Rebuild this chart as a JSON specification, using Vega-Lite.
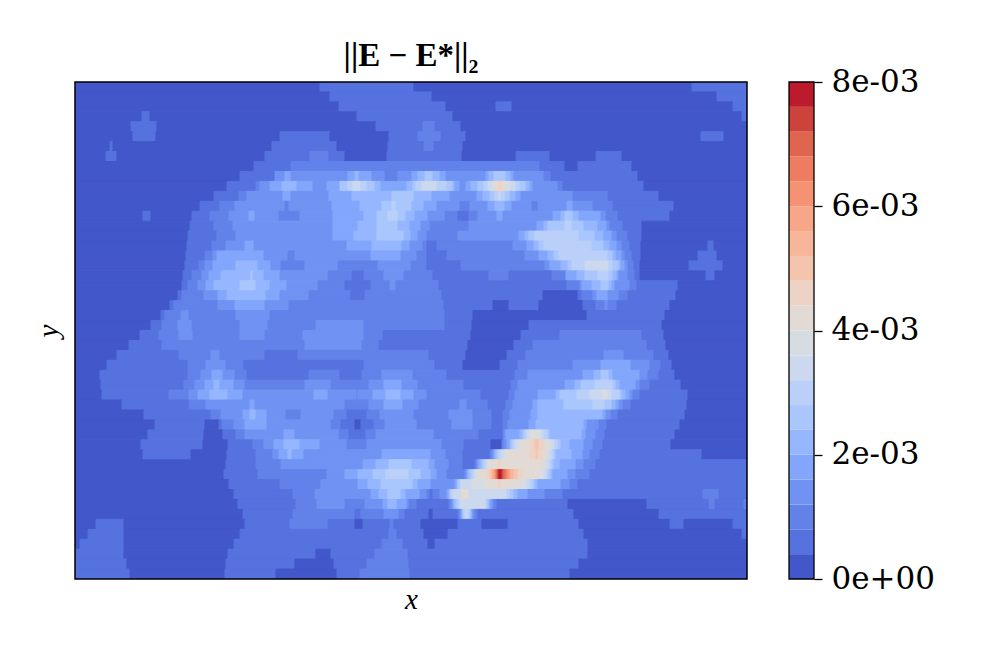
{"$schema":"https://vega.github.io/schema/vega-lite/v6.json","background":"white","padding":{"left":34,"top":40,"right":10,"bottom":10},"spacing":40,"config":{"view":{"stroke":null},"concat":{"spacing":40}},"hconcat":[{"width":672,"height":497,"title":{"text":"||E − E*||₂","font":"Liberation Serif","fontSize":33,"fontWeight":"bold","offset":8,"color":"black"},"layer":[{"data":{"values":[
{"y":0,"x0":75,"x1":320,"v":0.2},{"y":0,"x0":320,"x1":414,"v":0.6},{"y":0,"x0":414,"x1":692,"v":0.2},{"y":0,"x0":692,"x1":747,"v":0.6},
{"y":1,"x0":75,"x1":330,"v":0.2},{"y":1,"x0":330,"x1":432,"v":0.6},{"y":1,"x0":432,"x1":717,"v":0.2},{"y":1,"x0":717,"x1":747,"v":0.6},
{"y":2,"x0":75,"x1":339,"v":0.2},{"y":2,"x0":339,"x1":446,"v":0.6},{"y":2,"x0":446,"x1":496,"v":0.2},{"y":2,"x0":496,"x1":512,"v":0.6},{"y":2,"x0":512,"x1":733,"v":0.2},{"y":2,"x0":733,"x1":747,"v":0.6},
{"y":3,"x0":75,"x1":142,"v":0.2},{"y":3,"x0":142,"x1":150,"v":0.6},{"y":3,"x0":150,"x1":357,"v":0.2},{"y":3,"x0":357,"x1":453,"v":0.6},{"y":3,"x0":453,"x1":742,"v":0.2},{"y":3,"x0":742,"x1":747,"v":0.6},
{"y":4,"x0":75,"x1":131,"v":0.2},{"y":4,"x0":131,"x1":157,"v":0.6},{"y":4,"x0":157,"x1":376,"v":0.2},{"y":4,"x0":376,"x1":423,"v":0.6},{"y":4,"x0":423,"x1":435,"v":1},{"y":4,"x0":435,"x1":461,"v":0.6},{"y":4,"x0":461,"x1":747,"v":0.2},
{"y":5,"x0":75,"x1":133,"v":0.2},{"y":5,"x0":133,"x1":156,"v":0.6},{"y":5,"x0":156,"x1":280,"v":0.2},{"y":5,"x0":280,"x1":330,"v":0.6},{"y":5,"x0":330,"x1":389,"v":0.2},{"y":5,"x0":389,"x1":418,"v":0.6},{"y":5,"x0":418,"x1":441,"v":1},{"y":5,"x0":441,"x1":466,"v":0.6},{"y":5,"x0":466,"x1":701,"v":0.2},{"y":5,"x0":701,"x1":724,"v":0.6},{"y":5,"x0":724,"x1":747,"v":0.2},
{"y":6,"x0":75,"x1":110,"v":0.2},{"y":6,"x0":110,"x1":113,"v":0.6},{"y":6,"x0":113,"x1":272,"v":0.2},{"y":6,"x0":272,"x1":337,"v":0.6},{"y":6,"x0":337,"x1":388,"v":0.2},{"y":6,"x0":388,"x1":424,"v":0.6},{"y":6,"x0":424,"x1":434,"v":1},{"y":6,"x0":434,"x1":463,"v":0.6},{"y":6,"x0":463,"x1":747,"v":0.2},
{"y":7,"x0":75,"x1":106,"v":0.2},{"y":7,"x0":106,"x1":117,"v":0.6},{"y":7,"x0":117,"x1":265,"v":0.2},{"y":7,"x0":265,"x1":310,"v":0.6},{"y":7,"x0":310,"x1":329,"v":1},{"y":7,"x0":329,"x1":345,"v":0.6},{"y":7,"x0":345,"x1":387,"v":0.2},{"y":7,"x0":387,"x1":462,"v":0.6},{"y":7,"x0":462,"x1":516,"v":0.2},{"y":7,"x0":516,"x1":550,"v":0.6},{"y":7,"x0":550,"x1":596,"v":0.2},{"y":7,"x0":596,"x1":622,"v":0.6},{"y":7,"x0":622,"x1":747,"v":0.2},
{"y":8,"x0":75,"x1":254,"v":0.2},{"y":8,"x0":254,"x1":291,"v":0.6},{"y":8,"x0":291,"x1":540,"v":1},{"y":8,"x0":540,"x1":565,"v":0.6},{"y":8,"x0":565,"x1":578,"v":0.2},{"y":8,"x0":578,"x1":632,"v":0.6},{"y":8,"x0":632,"x1":747,"v":0.2},
{"y":9,"x0":75,"x1":240,"v":0.2},{"y":9,"x0":240,"x1":275,"v":0.6},{"y":9,"x0":275,"x1":285,"v":1.4},{"y":9,"x0":285,"x1":291,"v":1.8},{"y":9,"x0":291,"x1":348,"v":1.4},{"y":9,"x0":348,"x1":355,"v":1.8},{"y":9,"x0":355,"x1":359,"v":2.2},{"y":9,"x0":359,"x1":372,"v":1.8},{"y":9,"x0":372,"x1":385,"v":1.4},{"y":9,"x0":385,"x1":398,"v":1},{"y":9,"x0":398,"x1":412,"v":1.4},{"y":9,"x0":412,"x1":418,"v":1.8},{"y":9,"x0":418,"x1":425,"v":2.2},{"y":9,"x0":425,"x1":433,"v":2.6},{"y":9,"x0":433,"x1":440,"v":2.2},{"y":9,"x0":440,"x1":446,"v":1.8},{"y":9,"x0":446,"x1":486,"v":1.4},{"y":9,"x0":486,"x1":489,"v":1.8},{"y":9,"x0":489,"x1":494,"v":2.2},{"y":9,"x0":494,"x1":506,"v":2.6},{"y":9,"x0":506,"x1":511,"v":2.2},{"y":9,"x0":511,"x1":514,"v":1.8},{"y":9,"x0":514,"x1":544,"v":1.4},{"y":9,"x0":544,"x1":551,"v":1},{"y":9,"x0":551,"x1":638,"v":0.6},{"y":9,"x0":638,"x1":747,"v":0.2},
{"y":10,"x0":75,"x1":227,"v":0.2},{"y":10,"x0":227,"x1":256,"v":0.6},{"y":10,"x0":256,"x1":260,"v":1},{"y":10,"x0":260,"x1":270,"v":1.4},{"y":10,"x0":270,"x1":282,"v":1.8},{"y":10,"x0":282,"x1":297,"v":2.2},{"y":10,"x0":297,"x1":313,"v":1.8},{"y":10,"x0":313,"x1":327,"v":1.4},{"y":10,"x0":327,"x1":340,"v":1.8},{"y":10,"x0":340,"x1":348,"v":2.6},{"y":10,"x0":348,"x1":353,"v":3},{"y":10,"x0":353,"x1":361,"v":3.4},{"y":10,"x0":361,"x1":367,"v":3},{"y":10,"x0":367,"x1":375,"v":2.6},{"y":10,"x0":375,"x1":381,"v":2.2},{"y":10,"x0":381,"x1":407,"v":1.8},{"y":10,"x0":407,"x1":413,"v":2.2},{"y":10,"x0":413,"x1":416,"v":2.6},{"y":10,"x0":416,"x1":422,"v":3},{"y":10,"x0":422,"x1":437,"v":3.4},{"y":10,"x0":437,"x1":447,"v":3},{"y":10,"x0":447,"x1":453,"v":2.6},{"y":10,"x0":453,"x1":455,"v":2.2},{"y":10,"x0":455,"x1":460,"v":1.8},{"y":10,"x0":460,"x1":466,"v":1.4},{"y":10,"x0":466,"x1":471,"v":1.8},{"y":10,"x0":471,"x1":478,"v":2.2},{"y":10,"x0":478,"x1":484,"v":2.6},{"y":10,"x0":484,"x1":488,"v":3},{"y":10,"x0":488,"x1":492,"v":3.4},{"y":10,"x0":492,"x1":495,"v":3.8},{"y":10,"x0":495,"x1":498,"v":4.2},{"y":10,"x0":498,"x1":503,"v":4.6},{"y":10,"x0":503,"x1":506,"v":4.2},{"y":10,"x0":506,"x1":510,"v":3.8},{"y":10,"x0":510,"x1":516,"v":3.4},{"y":10,"x0":516,"x1":520,"v":3},{"y":10,"x0":520,"x1":526,"v":2.6},{"y":10,"x0":526,"x1":530,"v":2.2},{"y":10,"x0":530,"x1":533,"v":1.8},{"y":10,"x0":533,"x1":558,"v":1.4},{"y":10,"x0":558,"x1":563,"v":1},{"y":10,"x0":563,"x1":644,"v":0.6},{"y":10,"x0":644,"x1":747,"v":0.2},
{"y":11,"x0":75,"x1":214,"v":0.2},{"y":11,"x0":214,"x1":239,"v":0.6},{"y":11,"x0":239,"x1":247,"v":1},{"y":11,"x0":247,"x1":283,"v":1.4},{"y":11,"x0":283,"x1":291,"v":1.8},{"y":11,"x0":291,"x1":329,"v":1.4},{"y":11,"x0":329,"x1":352,"v":1.8},{"y":11,"x0":352,"x1":392,"v":2.2},{"y":11,"x0":392,"x1":414,"v":2.6},{"y":11,"x0":414,"x1":432,"v":2.2},{"y":11,"x0":432,"x1":450,"v":1.8},{"y":11,"x0":450,"x1":477,"v":1.4},{"y":11,"x0":477,"x1":483,"v":1.8},{"y":11,"x0":483,"x1":490,"v":2.2},{"y":11,"x0":490,"x1":495,"v":2.6},{"y":11,"x0":495,"x1":499,"v":3},{"y":11,"x0":499,"x1":501,"v":3.4},{"y":11,"x0":501,"x1":505,"v":3},{"y":11,"x0":505,"x1":510,"v":2.6},{"y":11,"x0":510,"x1":516,"v":2.2},{"y":11,"x0":516,"x1":521,"v":1.8},{"y":11,"x0":521,"x1":573,"v":1.4},{"y":11,"x0":573,"x1":608,"v":1},{"y":11,"x0":608,"x1":659,"v":0.6},{"y":11,"x0":659,"x1":747,"v":0.2},
{"y":12,"x0":75,"x1":200,"v":0.2},{"y":12,"x0":200,"x1":220,"v":0.6},{"y":12,"x0":220,"x1":235,"v":1},{"y":12,"x0":235,"x1":285,"v":1.4},{"y":12,"x0":285,"x1":289,"v":1},{"y":12,"x0":289,"x1":332,"v":1.4},{"y":12,"x0":332,"x1":360,"v":1.8},{"y":12,"x0":360,"x1":382,"v":2.2},{"y":12,"x0":382,"x1":392,"v":2.6},{"y":12,"x0":392,"x1":396,"v":3},{"y":12,"x0":396,"x1":412,"v":2.6},{"y":12,"x0":412,"x1":424,"v":2.2},{"y":12,"x0":424,"x1":437,"v":1.8},{"y":12,"x0":437,"x1":460,"v":1.4},{"y":12,"x0":460,"x1":470,"v":1},{"y":12,"x0":470,"x1":488,"v":1.4},{"y":12,"x0":488,"x1":495,"v":1.8},{"y":12,"x0":495,"x1":505,"v":2.2},{"y":12,"x0":505,"x1":512,"v":1.8},{"y":12,"x0":512,"x1":532,"v":1.4},{"y":12,"x0":532,"x1":538,"v":1},{"y":12,"x0":538,"x1":567,"v":1.4},{"y":12,"x0":567,"x1":573,"v":1.8},{"y":12,"x0":573,"x1":593,"v":1.4},{"y":12,"x0":593,"x1":613,"v":1},{"y":12,"x0":613,"x1":674,"v":0.6},{"y":12,"x0":674,"x1":747,"v":0.2},
{"y":13,"x0":75,"x1":143,"v":0.2},{"y":13,"x0":143,"x1":151,"v":0.6},{"y":13,"x0":151,"x1":192,"v":0.2},{"y":13,"x0":192,"x1":210,"v":0.6},{"y":13,"x0":210,"x1":229,"v":1},{"y":13,"x0":229,"x1":249,"v":1.4},{"y":13,"x0":249,"x1":255,"v":1.8},{"y":13,"x0":255,"x1":279,"v":1.4},{"y":13,"x0":279,"x1":300,"v":1},{"y":13,"x0":300,"x1":333,"v":1.4},{"y":13,"x0":333,"x1":364,"v":1.8},{"y":13,"x0":364,"x1":377,"v":2.2},{"y":13,"x0":377,"x1":388,"v":2.6},{"y":13,"x0":388,"x1":398,"v":3},{"y":13,"x0":398,"x1":406,"v":2.6},{"y":13,"x0":406,"x1":415,"v":2.2},{"y":13,"x0":415,"x1":428,"v":1.8},{"y":13,"x0":428,"x1":445,"v":1.4},{"y":13,"x0":445,"x1":458,"v":1},{"y":13,"x0":458,"x1":469,"v":0.6},{"y":13,"x0":469,"x1":478,"v":1},{"y":13,"x0":478,"x1":497,"v":1.4},{"y":13,"x0":497,"x1":503,"v":1.8},{"y":13,"x0":503,"x1":553,"v":1.4},{"y":13,"x0":553,"x1":561,"v":1.8},{"y":13,"x0":561,"x1":565,"v":2.2},{"y":13,"x0":565,"x1":573,"v":2.6},{"y":13,"x0":573,"x1":579,"v":2.2},{"y":13,"x0":579,"x1":601,"v":1.8},{"y":13,"x0":601,"x1":606,"v":1.4},{"y":13,"x0":606,"x1":618,"v":1},{"y":13,"x0":618,"x1":670,"v":0.6},{"y":13,"x0":670,"x1":747,"v":0.2},
{"y":14,"x0":75,"x1":190,"v":0.2},{"y":14,"x0":190,"x1":214,"v":0.6},{"y":14,"x0":214,"x1":233,"v":1},{"y":14,"x0":233,"x1":333,"v":1.4},{"y":14,"x0":333,"x1":358,"v":1.8},{"y":14,"x0":358,"x1":377,"v":2.2},{"y":14,"x0":377,"x1":398,"v":2.6},{"y":14,"x0":398,"x1":410,"v":2.2},{"y":14,"x0":410,"x1":421,"v":1.8},{"y":14,"x0":421,"x1":430,"v":1.4},{"y":14,"x0":430,"x1":469,"v":1},{"y":14,"x0":469,"x1":537,"v":1.4},{"y":14,"x0":537,"x1":544,"v":1.8},{"y":14,"x0":544,"x1":548,"v":2.2},{"y":14,"x0":548,"x1":565,"v":2.6},{"y":14,"x0":565,"x1":572,"v":3},{"y":14,"x0":572,"x1":584,"v":2.6},{"y":14,"x0":584,"x1":598,"v":2.2},{"y":14,"x0":598,"x1":607,"v":1.8},{"y":14,"x0":607,"x1":610,"v":1.4},{"y":14,"x0":610,"x1":623,"v":1},{"y":14,"x0":623,"x1":642,"v":0.6},{"y":14,"x0":642,"x1":747,"v":0.2},
{"y":15,"x0":75,"x1":188,"v":0.2},{"y":15,"x0":188,"x1":217,"v":0.6},{"y":15,"x0":217,"x1":236,"v":1},{"y":15,"x0":236,"x1":333,"v":1.4},{"y":15,"x0":333,"x1":354,"v":1.8},{"y":15,"x0":354,"x1":377,"v":2.2},{"y":15,"x0":377,"x1":404,"v":2.6},{"y":15,"x0":404,"x1":411,"v":2.2},{"y":15,"x0":411,"x1":418,"v":1.8},{"y":15,"x0":418,"x1":427,"v":1.4},{"y":15,"x0":427,"x1":458,"v":1},{"y":15,"x0":458,"x1":519,"v":1.4},{"y":15,"x0":519,"x1":525,"v":1.8},{"y":15,"x0":525,"x1":529,"v":2.2},{"y":15,"x0":529,"x1":535,"v":2.6},{"y":15,"x0":535,"x1":579,"v":3},{"y":15,"x0":579,"x1":595,"v":2.6},{"y":15,"x0":595,"x1":604,"v":2.2},{"y":15,"x0":604,"x1":612,"v":1.8},{"y":15,"x0":612,"x1":617,"v":1.4},{"y":15,"x0":617,"x1":628,"v":1},{"y":15,"x0":628,"x1":642,"v":0.6},{"y":15,"x0":642,"x1":747,"v":0.2},
{"y":16,"x0":75,"x1":187,"v":0.2},{"y":16,"x0":187,"x1":212,"v":0.6},{"y":16,"x0":212,"x1":226,"v":1},{"y":16,"x0":226,"x1":245,"v":1.4},{"y":16,"x0":245,"x1":254,"v":1.8},{"y":16,"x0":254,"x1":347,"v":1.4},{"y":16,"x0":347,"x1":372,"v":1.8},{"y":16,"x0":372,"x1":402,"v":2.2},{"y":16,"x0":402,"x1":410,"v":1.8},{"y":16,"x0":410,"x1":423,"v":1.4},{"y":16,"x0":423,"x1":427,"v":1},{"y":16,"x0":427,"x1":437,"v":0.6},{"y":16,"x0":437,"x1":513,"v":1},{"y":16,"x0":513,"x1":527,"v":1.4},{"y":16,"x0":527,"x1":534,"v":1.8},{"y":16,"x0":534,"x1":539,"v":2.2},{"y":16,"x0":539,"x1":544,"v":2.6},{"y":16,"x0":544,"x1":592,"v":3},{"y":16,"x0":592,"x1":604,"v":2.6},{"y":16,"x0":604,"x1":610,"v":2.2},{"y":16,"x0":610,"x1":617,"v":1.8},{"y":16,"x0":617,"x1":622,"v":1.4},{"y":16,"x0":622,"x1":630,"v":1},{"y":16,"x0":630,"x1":641,"v":0.6},{"y":16,"x0":641,"x1":708,"v":0.2},{"y":16,"x0":708,"x1":714,"v":0.6},{"y":16,"x0":714,"x1":747,"v":0.2},
{"y":17,"x0":75,"x1":186,"v":0.2},{"y":17,"x0":186,"x1":205,"v":0.6},{"y":17,"x0":205,"x1":213,"v":1},{"y":17,"x0":213,"x1":217,"v":1.4},{"y":17,"x0":217,"x1":264,"v":1.8},{"y":17,"x0":264,"x1":288,"v":1.4},{"y":17,"x0":288,"x1":295,"v":1},{"y":17,"x0":295,"x1":371,"v":1.4},{"y":17,"x0":371,"x1":401,"v":1.8},{"y":17,"x0":401,"x1":417,"v":1.4},{"y":17,"x0":417,"x1":427,"v":1},{"y":17,"x0":427,"x1":447,"v":0.6},{"y":17,"x0":447,"x1":525,"v":1},{"y":17,"x0":525,"x1":539,"v":1.4},{"y":17,"x0":539,"x1":548,"v":1.8},{"y":17,"x0":548,"x1":554,"v":2.2},{"y":17,"x0":554,"x1":559,"v":2.6},{"y":17,"x0":559,"x1":608,"v":3},{"y":17,"x0":608,"x1":613,"v":2.6},{"y":17,"x0":613,"x1":616,"v":2.2},{"y":17,"x0":616,"x1":622,"v":1.8},{"y":17,"x0":622,"x1":625,"v":1.4},{"y":17,"x0":625,"x1":632,"v":1},{"y":17,"x0":632,"x1":641,"v":0.6},{"y":17,"x0":641,"x1":698,"v":0.2},{"y":17,"x0":698,"x1":717,"v":0.6},{"y":17,"x0":717,"x1":747,"v":0.2},
{"y":18,"x0":75,"x1":185,"v":0.2},{"y":18,"x0":185,"x1":199,"v":0.6},{"y":18,"x0":199,"x1":205,"v":1},{"y":18,"x0":205,"x1":213,"v":1.4},{"y":18,"x0":213,"x1":236,"v":1.8},{"y":18,"x0":236,"x1":258,"v":2.2},{"y":18,"x0":258,"x1":271,"v":1.8},{"y":18,"x0":271,"x1":281,"v":1.4},{"y":18,"x0":281,"x1":305,"v":1},{"y":18,"x0":305,"x1":338,"v":1.4},{"y":18,"x0":338,"x1":378,"v":1},{"y":18,"x0":378,"x1":411,"v":1.4},{"y":18,"x0":411,"x1":427,"v":1},{"y":18,"x0":427,"x1":461,"v":0.6},{"y":18,"x0":461,"x1":545,"v":1},{"y":18,"x0":545,"x1":550,"v":1.4},{"y":18,"x0":550,"x1":561,"v":1.8},{"y":18,"x0":561,"x1":568,"v":2.2},{"y":18,"x0":568,"x1":572,"v":2.6},{"y":18,"x0":572,"x1":585,"v":3},{"y":18,"x0":585,"x1":609,"v":3.4},{"y":18,"x0":609,"x1":613,"v":3},{"y":18,"x0":613,"x1":619,"v":2.6},{"y":18,"x0":619,"x1":621,"v":2.2},{"y":18,"x0":621,"x1":625,"v":1.8},{"y":18,"x0":625,"x1":628,"v":1.4},{"y":18,"x0":628,"x1":634,"v":1},{"y":18,"x0":634,"x1":640,"v":0.6},{"y":18,"x0":640,"x1":689,"v":0.2},{"y":18,"x0":689,"x1":723,"v":0.6},{"y":18,"x0":723,"x1":747,"v":0.2},
{"y":19,"x0":75,"x1":183,"v":0.2},{"y":19,"x0":183,"x1":192,"v":0.6},{"y":19,"x0":192,"x1":202,"v":1},{"y":19,"x0":202,"x1":209,"v":1.4},{"y":19,"x0":209,"x1":221,"v":1.8},{"y":19,"x0":221,"x1":251,"v":2.2},{"y":19,"x0":251,"x1":253,"v":2.6},{"y":19,"x0":253,"x1":264,"v":2.2},{"y":19,"x0":264,"x1":280,"v":1.8},{"y":19,"x0":280,"x1":328,"v":1.4},{"y":19,"x0":328,"x1":352,"v":1},{"y":19,"x0":352,"x1":364,"v":0.6},{"y":19,"x0":364,"x1":384,"v":1},{"y":19,"x0":384,"x1":404,"v":1.4},{"y":19,"x0":404,"x1":433,"v":1},{"y":19,"x0":433,"x1":489,"v":0.6},{"y":19,"x0":489,"x1":509,"v":1},{"y":19,"x0":509,"x1":552,"v":0.6},{"y":19,"x0":552,"x1":566,"v":1},{"y":19,"x0":566,"x1":577,"v":1.8},{"y":19,"x0":577,"x1":585,"v":2.2},{"y":19,"x0":585,"x1":598,"v":2.6},{"y":19,"x0":598,"x1":609,"v":3},{"y":19,"x0":609,"x1":613,"v":2.6},{"y":19,"x0":613,"x1":617,"v":2.2},{"y":19,"x0":617,"x1":619,"v":1.8},{"y":19,"x0":619,"x1":628,"v":1.4},{"y":19,"x0":628,"x1":635,"v":1},{"y":19,"x0":635,"x1":640,"v":0.6},{"y":19,"x0":640,"x1":706,"v":0.2},{"y":19,"x0":706,"x1":715,"v":0.6},{"y":19,"x0":715,"x1":747,"v":0.2},
{"y":20,"x0":75,"x1":182,"v":0.2},{"y":20,"x0":182,"x1":188,"v":0.6},{"y":20,"x0":188,"x1":198,"v":1},{"y":20,"x0":198,"x1":206,"v":1.4},{"y":20,"x0":206,"x1":214,"v":1.8},{"y":20,"x0":214,"x1":240,"v":2.2},{"y":20,"x0":240,"x1":256,"v":2.6},{"y":20,"x0":256,"x1":270,"v":2.2},{"y":20,"x0":270,"x1":287,"v":1.8},{"y":20,"x0":287,"x1":318,"v":1.4},{"y":20,"x0":318,"x1":345,"v":1},{"y":20,"x0":345,"x1":371,"v":0.6},{"y":20,"x0":371,"x1":390,"v":1},{"y":20,"x0":390,"x1":396,"v":1.4},{"y":20,"x0":396,"x1":439,"v":1},{"y":20,"x0":439,"x1":567,"v":0.6},{"y":20,"x0":567,"x1":580,"v":1},{"y":20,"x0":580,"x1":582,"v":1.4},{"y":20,"x0":582,"x1":592,"v":1.8},{"y":20,"x0":592,"x1":601,"v":2.2},{"y":20,"x0":601,"x1":609,"v":2.6},{"y":20,"x0":609,"x1":612,"v":2.2},{"y":20,"x0":612,"x1":615,"v":1.8},{"y":20,"x0":615,"x1":630,"v":1.4},{"y":20,"x0":630,"x1":637,"v":1},{"y":20,"x0":637,"x1":678,"v":0.6},{"y":20,"x0":678,"x1":747,"v":0.2},
{"y":21,"x0":75,"x1":178,"v":0.2},{"y":21,"x0":178,"x1":182,"v":0.6},{"y":21,"x0":182,"x1":204,"v":1},{"y":21,"x0":204,"x1":218,"v":1.4},{"y":21,"x0":218,"x1":227,"v":1.8},{"y":21,"x0":227,"x1":266,"v":2.2},{"y":21,"x0":266,"x1":280,"v":1.8},{"y":21,"x0":280,"x1":309,"v":1.4},{"y":21,"x0":309,"x1":351,"v":1},{"y":21,"x0":351,"x1":365,"v":0.6},{"y":21,"x0":365,"x1":442,"v":1},{"y":21,"x0":442,"x1":543,"v":0.6},{"y":21,"x0":543,"x1":578,"v":0.2},{"y":21,"x0":578,"x1":582,"v":0.6},{"y":21,"x0":582,"x1":593,"v":1},{"y":21,"x0":593,"x1":597,"v":1.4},{"y":21,"x0":597,"x1":608,"v":1.8},{"y":21,"x0":608,"x1":619,"v":1.4},{"y":21,"x0":619,"x1":628,"v":1},{"y":21,"x0":628,"x1":676,"v":0.6},{"y":21,"x0":676,"x1":747,"v":0.2},
{"y":22,"x0":75,"x1":170,"v":0.2},{"y":22,"x0":170,"x1":174,"v":0.6},{"y":22,"x0":174,"x1":218,"v":1},{"y":22,"x0":218,"x1":235,"v":1.4},{"y":22,"x0":235,"x1":265,"v":1.8},{"y":22,"x0":265,"x1":289,"v":1.4},{"y":22,"x0":289,"x1":444,"v":1},{"y":22,"x0":444,"x1":493,"v":0.6},{"y":22,"x0":493,"x1":509,"v":0.2},{"y":22,"x0":509,"x1":539,"v":0.6},{"y":22,"x0":539,"x1":583,"v":0.2},{"y":22,"x0":583,"x1":596,"v":0.6},{"y":22,"x0":596,"x1":605,"v":1},{"y":22,"x0":605,"x1":608,"v":1.4},{"y":22,"x0":608,"x1":617,"v":1},{"y":22,"x0":617,"x1":670,"v":0.6},{"y":22,"x0":670,"x1":747,"v":0.2},
{"y":23,"x0":75,"x1":161,"v":0.2},{"y":23,"x0":161,"x1":165,"v":0.6},{"y":23,"x0":165,"x1":181,"v":1},{"y":23,"x0":181,"x1":189,"v":1.4},{"y":23,"x0":189,"x1":236,"v":1},{"y":23,"x0":236,"x1":270,"v":1.4},{"y":23,"x0":270,"x1":445,"v":1},{"y":23,"x0":445,"x1":473,"v":0.6},{"y":23,"x0":473,"x1":587,"v":0.2},{"y":23,"x0":587,"x1":665,"v":0.6},{"y":23,"x0":665,"x1":747,"v":0.2},
{"y":24,"x0":75,"x1":151,"v":0.2},{"y":24,"x0":151,"x1":162,"v":0.6},{"y":24,"x0":162,"x1":178,"v":1},{"y":24,"x0":178,"x1":192,"v":1.4},{"y":24,"x0":192,"x1":240,"v":1},{"y":24,"x0":240,"x1":268,"v":1.4},{"y":24,"x0":268,"x1":316,"v":1},{"y":24,"x0":316,"x1":364,"v":1.4},{"y":24,"x0":364,"x1":445,"v":1},{"y":24,"x0":445,"x1":472,"v":0.6},{"y":24,"x0":472,"x1":529,"v":0.2},{"y":24,"x0":529,"x1":662,"v":0.6},{"y":24,"x0":662,"x1":747,"v":0.2},
{"y":25,"x0":75,"x1":140,"v":0.2},{"y":25,"x0":140,"x1":159,"v":0.6},{"y":25,"x0":159,"x1":179,"v":1},{"y":25,"x0":179,"x1":193,"v":1.4},{"y":25,"x0":193,"x1":240,"v":1},{"y":25,"x0":240,"x1":265,"v":1.4},{"y":25,"x0":265,"x1":303,"v":1},{"y":25,"x0":303,"x1":364,"v":1.4},{"y":25,"x0":364,"x1":383,"v":1},{"y":25,"x0":383,"x1":471,"v":0.6},{"y":25,"x0":471,"x1":521,"v":0.2},{"y":25,"x0":521,"x1":560,"v":0.6},{"y":25,"x0":560,"x1":642,"v":1},{"y":25,"x0":642,"x1":664,"v":0.6},{"y":25,"x0":664,"x1":747,"v":0.2},
{"y":26,"x0":75,"x1":129,"v":0.2},{"y":26,"x0":129,"x1":162,"v":0.6},{"y":26,"x0":162,"x1":305,"v":1},{"y":26,"x0":305,"x1":362,"v":1.4},{"y":26,"x0":362,"x1":379,"v":1},{"y":26,"x0":379,"x1":468,"v":0.6},{"y":26,"x0":468,"x1":514,"v":0.2},{"y":26,"x0":514,"x1":533,"v":0.6},{"y":26,"x0":533,"x1":647,"v":1},{"y":26,"x0":647,"x1":666,"v":0.6},{"y":26,"x0":666,"x1":747,"v":0.2},
{"y":27,"x0":75,"x1":117,"v":0.2},{"y":27,"x0":117,"x1":179,"v":0.6},{"y":27,"x0":179,"x1":211,"v":1},{"y":27,"x0":211,"x1":220,"v":1.4},{"y":27,"x0":220,"x1":265,"v":1},{"y":27,"x0":265,"x1":298,"v":0.6},{"y":27,"x0":298,"x1":429,"v":1},{"y":27,"x0":429,"x1":466,"v":0.6},{"y":27,"x0":466,"x1":507,"v":0.2},{"y":27,"x0":507,"x1":526,"v":0.6},{"y":27,"x0":526,"x1":604,"v":1},{"y":27,"x0":604,"x1":624,"v":1.4},{"y":27,"x0":624,"x1":654,"v":1},{"y":27,"x0":654,"x1":669,"v":0.6},{"y":27,"x0":669,"x1":747,"v":0.2},
{"y":28,"x0":75,"x1":107,"v":0.2},{"y":28,"x0":107,"x1":188,"v":0.6},{"y":28,"x0":188,"x1":206,"v":1},{"y":28,"x0":206,"x1":226,"v":1.4},{"y":28,"x0":226,"x1":244,"v":1},{"y":28,"x0":244,"x1":364,"v":0.6},{"y":28,"x0":364,"x1":435,"v":1},{"y":28,"x0":435,"x1":463,"v":0.6},{"y":28,"x0":463,"x1":500,"v":0.2},{"y":28,"x0":500,"x1":518,"v":0.6},{"y":28,"x0":518,"x1":573,"v":1},{"y":28,"x0":573,"x1":601,"v":1.4},{"y":28,"x0":601,"x1":631,"v":1.8},{"y":28,"x0":631,"x1":650,"v":1.4},{"y":28,"x0":650,"x1":661,"v":1},{"y":28,"x0":661,"x1":672,"v":0.6},{"y":28,"x0":672,"x1":747,"v":0.2},
{"y":29,"x0":75,"x1":100,"v":0.2},{"y":29,"x0":100,"x1":188,"v":0.6},{"y":29,"x0":188,"x1":201,"v":1},{"y":29,"x0":201,"x1":212,"v":1.4},{"y":29,"x0":212,"x1":223,"v":1.8},{"y":29,"x0":223,"x1":235,"v":1.4},{"y":29,"x0":235,"x1":247,"v":1},{"y":29,"x0":247,"x1":309,"v":0.6},{"y":29,"x0":309,"x1":340,"v":1},{"y":29,"x0":340,"x1":362,"v":0.6},{"y":29,"x0":362,"x1":382,"v":1},{"y":29,"x0":382,"x1":413,"v":1.4},{"y":29,"x0":413,"x1":447,"v":1},{"y":29,"x0":447,"x1":515,"v":0.6},{"y":29,"x0":515,"x1":528,"v":1},{"y":29,"x0":528,"x1":583,"v":1.4},{"y":29,"x0":583,"x1":594,"v":1.8},{"y":29,"x0":594,"x1":601,"v":2.2},{"y":29,"x0":601,"x1":609,"v":2.6},{"y":29,"x0":609,"x1":613,"v":2.2},{"y":29,"x0":613,"x1":640,"v":1.8},{"y":29,"x0":640,"x1":648,"v":1.4},{"y":29,"x0":648,"x1":659,"v":1},{"y":29,"x0":659,"x1":675,"v":0.6},{"y":29,"x0":675,"x1":747,"v":0.2},
{"y":30,"x0":75,"x1":101,"v":0.2},{"y":30,"x0":101,"x1":184,"v":0.6},{"y":30,"x0":184,"x1":195,"v":1},{"y":30,"x0":195,"x1":205,"v":1.4},{"y":30,"x0":205,"x1":214,"v":1.8},{"y":30,"x0":214,"x1":220,"v":2.2},{"y":30,"x0":220,"x1":234,"v":1.8},{"y":30,"x0":234,"x1":245,"v":1.4},{"y":30,"x0":245,"x1":305,"v":1},{"y":30,"x0":305,"x1":331,"v":1.4},{"y":30,"x0":331,"x1":369,"v":1},{"y":30,"x0":369,"x1":384,"v":1.4},{"y":30,"x0":384,"x1":402,"v":1.8},{"y":30,"x0":402,"x1":418,"v":1.4},{"y":30,"x0":418,"x1":464,"v":1},{"y":30,"x0":464,"x1":511,"v":0.6},{"y":30,"x0":511,"x1":518,"v":1},{"y":30,"x0":518,"x1":565,"v":1.4},{"y":30,"x0":565,"x1":575,"v":1.8},{"y":30,"x0":575,"x1":581,"v":2.2},{"y":30,"x0":581,"x1":595,"v":2.6},{"y":30,"x0":595,"x1":613,"v":3},{"y":30,"x0":613,"x1":616,"v":2.6},{"y":30,"x0":616,"x1":620,"v":2.2},{"y":30,"x0":620,"x1":636,"v":1.8},{"y":30,"x0":636,"x1":640,"v":1.4},{"y":30,"x0":640,"x1":650,"v":1},{"y":30,"x0":650,"x1":681,"v":0.6},{"y":30,"x0":681,"x1":747,"v":0.2},
{"y":31,"x0":75,"x1":102,"v":0.2},{"y":31,"x0":102,"x1":169,"v":0.6},{"y":31,"x0":169,"x1":189,"v":1},{"y":31,"x0":189,"x1":198,"v":1.4},{"y":31,"x0":198,"x1":210,"v":1.8},{"y":31,"x0":210,"x1":228,"v":2.2},{"y":31,"x0":228,"x1":243,"v":1.8},{"y":31,"x0":243,"x1":314,"v":1.4},{"y":31,"x0":314,"x1":328,"v":1.8},{"y":31,"x0":328,"x1":357,"v":1.4},{"y":31,"x0":357,"x1":358,"v":1},{"y":31,"x0":358,"x1":373,"v":1.4},{"y":31,"x0":373,"x1":386,"v":1.8},{"y":31,"x0":386,"x1":401,"v":2.2},{"y":31,"x0":401,"x1":414,"v":1.8},{"y":31,"x0":414,"x1":427,"v":1.4},{"y":31,"x0":427,"x1":481,"v":1},{"y":31,"x0":481,"x1":509,"v":0.6},{"y":31,"x0":509,"x1":515,"v":1},{"y":31,"x0":515,"x1":538,"v":1.4},{"y":31,"x0":538,"x1":556,"v":1.8},{"y":31,"x0":556,"x1":560,"v":2.2},{"y":31,"x0":560,"x1":577,"v":2.6},{"y":31,"x0":577,"x1":590,"v":3},{"y":31,"x0":590,"x1":602,"v":3.4},{"y":31,"x0":602,"x1":608,"v":3.8},{"y":31,"x0":608,"x1":612,"v":3.4},{"y":31,"x0":612,"x1":620,"v":3},{"y":31,"x0":620,"x1":622,"v":2.6},{"y":31,"x0":622,"x1":626,"v":2.2},{"y":31,"x0":626,"x1":630,"v":1.8},{"y":31,"x0":630,"x1":633,"v":1.4},{"y":31,"x0":633,"x1":640,"v":1},{"y":31,"x0":640,"x1":688,"v":0.6},{"y":31,"x0":688,"x1":747,"v":0.2},
{"y":32,"x0":75,"x1":122,"v":0.2},{"y":32,"x0":122,"x1":189,"v":0.6},{"y":32,"x0":189,"x1":206,"v":1},{"y":32,"x0":206,"x1":250,"v":1.4},{"y":32,"x0":250,"x1":255,"v":1.8},{"y":32,"x0":255,"x1":345,"v":1.4},{"y":32,"x0":345,"x1":369,"v":1},{"y":32,"x0":369,"x1":384,"v":1.4},{"y":32,"x0":384,"x1":403,"v":1.8},{"y":32,"x0":403,"x1":419,"v":1.4},{"y":32,"x0":419,"x1":460,"v":1},{"y":32,"x0":460,"x1":467,"v":1.4},{"y":32,"x0":467,"x1":488,"v":1},{"y":32,"x0":488,"x1":506,"v":0.6},{"y":32,"x0":506,"x1":513,"v":1},{"y":32,"x0":513,"x1":533,"v":1.4},{"y":32,"x0":533,"x1":538,"v":1.8},{"y":32,"x0":538,"x1":564,"v":2.2},{"y":32,"x0":564,"x1":593,"v":2.6},{"y":32,"x0":593,"x1":605,"v":3},{"y":32,"x0":605,"x1":612,"v":2.6},{"y":32,"x0":612,"x1":616,"v":2.2},{"y":32,"x0":616,"x1":619,"v":1.8},{"y":32,"x0":619,"x1":623,"v":1.4},{"y":32,"x0":623,"x1":631,"v":1},{"y":32,"x0":631,"x1":687,"v":0.6},{"y":32,"x0":687,"x1":747,"v":0.2},
{"y":33,"x0":75,"x1":144,"v":0.2},{"y":33,"x0":144,"x1":211,"v":0.6},{"y":33,"x0":211,"x1":221,"v":1},{"y":33,"x0":221,"x1":243,"v":1.4},{"y":33,"x0":243,"x1":250,"v":1.8},{"y":33,"x0":250,"x1":256,"v":2.2},{"y":33,"x0":256,"x1":267,"v":1.8},{"y":33,"x0":267,"x1":286,"v":1.4},{"y":33,"x0":286,"x1":301,"v":1},{"y":33,"x0":301,"x1":334,"v":1.4},{"y":33,"x0":334,"x1":347,"v":1},{"y":33,"x0":347,"x1":367,"v":0.6},{"y":33,"x0":367,"x1":380,"v":1},{"y":33,"x0":380,"x1":414,"v":1.4},{"y":33,"x0":414,"x1":449,"v":1},{"y":33,"x0":449,"x1":473,"v":1.4},{"y":33,"x0":473,"x1":492,"v":1},{"y":33,"x0":492,"x1":503,"v":0.6},{"y":33,"x0":503,"x1":510,"v":1},{"y":33,"x0":510,"x1":531,"v":1.4},{"y":33,"x0":531,"x1":538,"v":1.8},{"y":33,"x0":538,"x1":603,"v":2.2},{"y":33,"x0":603,"x1":606,"v":1.8},{"y":33,"x0":606,"x1":611,"v":1.4},{"y":33,"x0":611,"x1":618,"v":1},{"y":33,"x0":618,"x1":685,"v":0.6},{"y":33,"x0":685,"x1":747,"v":0.2},
{"y":34,"x0":75,"x1":155,"v":0.2},{"y":34,"x0":155,"x1":205,"v":0.6},{"y":34,"x0":205,"x1":219,"v":0.2},{"y":34,"x0":219,"x1":222,"v":0.6},{"y":34,"x0":222,"x1":234,"v":1},{"y":34,"x0":234,"x1":245,"v":1.4},{"y":34,"x0":245,"x1":267,"v":1.8},{"y":34,"x0":267,"x1":331,"v":1.4},{"y":34,"x0":331,"x1":341,"v":1},{"y":34,"x0":341,"x1":355,"v":0.6},{"y":34,"x0":355,"x1":361,"v":0.2},{"y":34,"x0":361,"x1":374,"v":0.6},{"y":34,"x0":374,"x1":385,"v":1},{"y":34,"x0":385,"x1":417,"v":1.4},{"y":34,"x0":417,"x1":452,"v":1},{"y":34,"x0":452,"x1":473,"v":1.4},{"y":34,"x0":473,"x1":492,"v":1},{"y":34,"x0":492,"x1":503,"v":0.6},{"y":34,"x0":503,"x1":508,"v":1},{"y":34,"x0":508,"x1":529,"v":1.4},{"y":34,"x0":529,"x1":536,"v":1.8},{"y":34,"x0":536,"x1":584,"v":2.2},{"y":34,"x0":584,"x1":587,"v":1.8},{"y":34,"x0":587,"x1":599,"v":1.4},{"y":34,"x0":599,"x1":607,"v":1},{"y":34,"x0":607,"x1":680,"v":0.6},{"y":34,"x0":680,"x1":747,"v":0.2},
{"y":35,"x0":75,"x1":148,"v":0.2},{"y":35,"x0":148,"x1":204,"v":0.6},{"y":35,"x0":204,"x1":223,"v":0.2},{"y":35,"x0":223,"x1":236,"v":0.6},{"y":35,"x0":236,"x1":245,"v":1},{"y":35,"x0":245,"x1":284,"v":1.4},{"y":35,"x0":284,"x1":295,"v":1.8},{"y":35,"x0":295,"x1":339,"v":1.4},{"y":35,"x0":339,"x1":349,"v":1},{"y":35,"x0":349,"x1":366,"v":0.6},{"y":35,"x0":366,"x1":376,"v":1},{"y":35,"x0":376,"x1":434,"v":1.4},{"y":35,"x0":434,"x1":479,"v":1},{"y":35,"x0":479,"x1":503,"v":0.6},{"y":35,"x0":503,"x1":504,"v":1},{"y":35,"x0":504,"x1":506,"v":1.4},{"y":35,"x0":506,"x1":520,"v":1.8},{"y":35,"x0":520,"x1":523,"v":2.2},{"y":35,"x0":523,"x1":525,"v":2.6},{"y":35,"x0":525,"x1":527,"v":3},{"y":35,"x0":527,"x1":530,"v":3.4},{"y":35,"x0":530,"x1":533,"v":3.8},{"y":35,"x0":533,"x1":537,"v":4.2},{"y":35,"x0":537,"x1":541,"v":3.8},{"y":35,"x0":541,"x1":544,"v":3.4},{"y":35,"x0":544,"x1":548,"v":3},{"y":35,"x0":548,"x1":550,"v":2.6},{"y":35,"x0":550,"x1":582,"v":2.2},{"y":35,"x0":582,"x1":586,"v":1.8},{"y":35,"x0":586,"x1":596,"v":1.4},{"y":35,"x0":596,"x1":605,"v":1},{"y":35,"x0":605,"x1":675,"v":0.6},{"y":35,"x0":675,"x1":747,"v":0.2},
{"y":36,"x0":75,"x1":141,"v":0.2},{"y":36,"x0":141,"x1":203,"v":0.6},{"y":36,"x0":203,"x1":228,"v":0.2},{"y":36,"x0":228,"x1":253,"v":0.6},{"y":36,"x0":253,"x1":264,"v":1},{"y":36,"x0":264,"x1":274,"v":1.4},{"y":36,"x0":274,"x1":284,"v":1.8},{"y":36,"x0":284,"x1":300,"v":2.2},{"y":36,"x0":300,"x1":320,"v":1.8},{"y":36,"x0":320,"x1":347,"v":1.4},{"y":36,"x0":347,"x1":367,"v":1},{"y":36,"x0":367,"x1":442,"v":1.4},{"y":36,"x0":442,"x1":464,"v":1},{"y":36,"x0":464,"x1":491,"v":0.6},{"y":36,"x0":491,"x1":502,"v":0.2},{"y":36,"x0":502,"x1":504,"v":1},{"y":36,"x0":504,"x1":507,"v":1.4},{"y":36,"x0":507,"x1":510,"v":1.8},{"y":36,"x0":510,"x1":511,"v":2.2},{"y":36,"x0":511,"x1":513,"v":2.6},{"y":36,"x0":513,"x1":515,"v":3},{"y":36,"x0":515,"x1":518,"v":3.4},{"y":36,"x0":518,"x1":521,"v":3.8},{"y":36,"x0":521,"x1":530,"v":4.2},{"y":36,"x0":530,"x1":535,"v":4.6},{"y":36,"x0":535,"x1":539,"v":5},{"y":36,"x0":539,"x1":545,"v":4.6},{"y":36,"x0":545,"x1":548,"v":4.2},{"y":36,"x0":548,"x1":552,"v":3.8},{"y":36,"x0":552,"x1":555,"v":3.4},{"y":36,"x0":555,"x1":558,"v":3},{"y":36,"x0":558,"x1":561,"v":2.6},{"y":36,"x0":561,"x1":570,"v":2.2},{"y":36,"x0":570,"x1":584,"v":1.8},{"y":36,"x0":584,"x1":593,"v":1.4},{"y":36,"x0":593,"x1":603,"v":1},{"y":36,"x0":603,"x1":671,"v":0.6},{"y":36,"x0":671,"x1":747,"v":0.2},
{"y":37,"x0":75,"x1":143,"v":0.2},{"y":37,"x0":143,"x1":191,"v":0.6},{"y":37,"x0":191,"x1":227,"v":0.2},{"y":37,"x0":227,"x1":256,"v":0.6},{"y":37,"x0":256,"x1":273,"v":1},{"y":37,"x0":273,"x1":279,"v":1.4},{"y":37,"x0":279,"x1":288,"v":1.8},{"y":37,"x0":288,"x1":292,"v":2.2},{"y":37,"x0":292,"x1":304,"v":1.8},{"y":37,"x0":304,"x1":382,"v":1.4},{"y":37,"x0":382,"x1":431,"v":1.8},{"y":37,"x0":431,"x1":446,"v":1.4},{"y":37,"x0":446,"x1":463,"v":1},{"y":37,"x0":463,"x1":490,"v":0.6},{"y":37,"x0":490,"x1":492,"v":1},{"y":37,"x0":492,"x1":494,"v":1.4},{"y":37,"x0":494,"x1":495,"v":1.8},{"y":37,"x0":495,"x1":497,"v":2.2},{"y":37,"x0":497,"x1":499,"v":2.6},{"y":37,"x0":499,"x1":501,"v":3},{"y":37,"x0":501,"x1":504,"v":3.4},{"y":37,"x0":504,"x1":507,"v":3.8},{"y":37,"x0":507,"x1":530,"v":4.2},{"y":37,"x0":530,"x1":536,"v":4.6},{"y":37,"x0":536,"x1":538,"v":5},{"y":37,"x0":538,"x1":543,"v":4.6},{"y":37,"x0":543,"x1":547,"v":4.2},{"y":37,"x0":547,"x1":549,"v":3.8},{"y":37,"x0":549,"x1":552,"v":3.4},{"y":37,"x0":552,"x1":554,"v":3},{"y":37,"x0":554,"x1":556,"v":2.6},{"y":37,"x0":556,"x1":572,"v":2.2},{"y":37,"x0":572,"x1":583,"v":1.8},{"y":37,"x0":583,"x1":590,"v":1.4},{"y":37,"x0":590,"x1":600,"v":1},{"y":37,"x0":600,"x1":702,"v":0.6},{"y":37,"x0":702,"x1":747,"v":0.2},
{"y":38,"x0":75,"x1":226,"v":0.2},{"y":38,"x0":226,"x1":256,"v":0.6},{"y":38,"x0":256,"x1":281,"v":1},{"y":38,"x0":281,"x1":363,"v":1.4},{"y":38,"x0":363,"x1":376,"v":1.8},{"y":38,"x0":376,"x1":389,"v":2.2},{"y":38,"x0":389,"x1":412,"v":2.6},{"y":38,"x0":412,"x1":429,"v":2.2},{"y":38,"x0":429,"x1":435,"v":1.8},{"y":38,"x0":435,"x1":449,"v":1.4},{"y":38,"x0":449,"x1":463,"v":1},{"y":38,"x0":463,"x1":475,"v":0.6},{"y":38,"x0":475,"x1":477,"v":1},{"y":38,"x0":477,"x1":478,"v":1.4},{"y":38,"x0":478,"x1":480,"v":1.8},{"y":38,"x0":480,"x1":482,"v":2.2},{"y":38,"x0":482,"x1":484,"v":2.6},{"y":38,"x0":484,"x1":486,"v":3},{"y":38,"x0":486,"x1":488,"v":3.4},{"y":38,"x0":488,"x1":490,"v":3.8},{"y":38,"x0":490,"x1":498,"v":4.2},{"y":38,"x0":498,"x1":502,"v":4.6},{"y":38,"x0":502,"x1":544,"v":4.2},{"y":38,"x0":544,"x1":547,"v":3.8},{"y":38,"x0":547,"x1":550,"v":3.4},{"y":38,"x0":550,"x1":552,"v":3},{"y":38,"x0":552,"x1":554,"v":2.6},{"y":38,"x0":554,"x1":560,"v":2.2},{"y":38,"x0":560,"x1":576,"v":1.8},{"y":38,"x0":576,"x1":584,"v":1.4},{"y":38,"x0":584,"x1":596,"v":1},{"y":38,"x0":596,"x1":747,"v":0.6},
{"y":39,"x0":75,"x1":224,"v":0.2},{"y":39,"x0":224,"x1":258,"v":0.6},{"y":39,"x0":258,"x1":327,"v":1},{"y":39,"x0":327,"x1":345,"v":1.4},{"y":39,"x0":345,"x1":358,"v":1.8},{"y":39,"x0":358,"x1":373,"v":2.2},{"y":39,"x0":373,"x1":386,"v":2.6},{"y":39,"x0":386,"x1":409,"v":3},{"y":39,"x0":409,"x1":421,"v":2.6},{"y":39,"x0":421,"x1":431,"v":2.2},{"y":39,"x0":431,"x1":437,"v":1.8},{"y":39,"x0":437,"x1":447,"v":1.4},{"y":39,"x0":447,"x1":465,"v":1},{"y":39,"x0":465,"x1":467,"v":1.4},{"y":39,"x0":467,"x1":468,"v":1.8},{"y":39,"x0":468,"x1":470,"v":2.2},{"y":39,"x0":470,"x1":472,"v":2.6},{"y":39,"x0":472,"x1":474,"v":3},{"y":39,"x0":474,"x1":476,"v":3.4},{"y":39,"x0":476,"x1":478,"v":3.8},{"y":39,"x0":478,"x1":486,"v":4.2},{"y":39,"x0":486,"x1":490,"v":4.6},{"y":39,"x0":490,"x1":492,"v":5},{"y":39,"x0":492,"x1":493,"v":5.4},{"y":39,"x0":493,"x1":495,"v":5.8},{"y":39,"x0":495,"x1":496,"v":6.2},{"y":39,"x0":496,"x1":497,"v":6.6},{"y":39,"x0":497,"x1":498,"v":7},{"y":39,"x0":498,"x1":499,"v":7.4},{"y":39,"x0":499,"x1":502,"v":7.8},{"y":39,"x0":502,"x1":503,"v":7.4},{"y":39,"x0":503,"x1":505,"v":7},{"y":39,"x0":505,"x1":507,"v":6.6},{"y":39,"x0":507,"x1":509,"v":6.2},{"y":39,"x0":509,"x1":511,"v":5.8},{"y":39,"x0":511,"x1":514,"v":5.4},{"y":39,"x0":514,"x1":518,"v":5},{"y":39,"x0":518,"x1":523,"v":4.6},{"y":39,"x0":523,"x1":541,"v":4.2},{"y":39,"x0":541,"x1":544,"v":3.8},{"y":39,"x0":544,"x1":547,"v":3.4},{"y":39,"x0":547,"x1":549,"v":3},{"y":39,"x0":549,"x1":551,"v":2.6},{"y":39,"x0":551,"x1":553,"v":2.2},{"y":39,"x0":553,"x1":568,"v":1.8},{"y":39,"x0":568,"x1":576,"v":1.4},{"y":39,"x0":576,"x1":590,"v":1},{"y":39,"x0":590,"x1":747,"v":0.6},
{"y":40,"x0":75,"x1":229,"v":0.2},{"y":40,"x0":229,"x1":280,"v":0.6},{"y":40,"x0":280,"x1":321,"v":1},{"y":40,"x0":321,"x1":358,"v":1.4},{"y":40,"x0":358,"x1":368,"v":1.8},{"y":40,"x0":368,"x1":381,"v":2.2},{"y":40,"x0":381,"x1":413,"v":2.6},{"y":40,"x0":413,"x1":418,"v":2.2},{"y":40,"x0":418,"x1":431,"v":1.8},{"y":40,"x0":431,"x1":455,"v":1.4},{"y":40,"x0":455,"x1":457,"v":1.8},{"y":40,"x0":457,"x1":458,"v":2.2},{"y":40,"x0":458,"x1":460,"v":2.6},{"y":40,"x0":460,"x1":461,"v":3},{"y":40,"x0":461,"x1":472,"v":3.4},{"y":40,"x0":472,"x1":486,"v":3.8},{"y":40,"x0":486,"x1":498,"v":4.2},{"y":40,"x0":498,"x1":502,"v":4.6},{"y":40,"x0":502,"x1":520,"v":4.2},{"y":40,"x0":520,"x1":526,"v":3.8},{"y":40,"x0":526,"x1":530,"v":3.4},{"y":40,"x0":530,"x1":533,"v":3},{"y":40,"x0":533,"x1":535,"v":2.6},{"y":40,"x0":535,"x1":538,"v":2.2},{"y":40,"x0":538,"x1":561,"v":1.8},{"y":40,"x0":561,"x1":570,"v":1.4},{"y":40,"x0":570,"x1":578,"v":1},{"y":40,"x0":578,"x1":747,"v":0.6},
{"y":41,"x0":75,"x1":234,"v":0.2},{"y":41,"x0":234,"x1":293,"v":0.6},{"y":41,"x0":293,"x1":315,"v":1},{"y":41,"x0":315,"x1":371,"v":1.4},{"y":41,"x0":371,"x1":379,"v":1.8},{"y":41,"x0":379,"x1":388,"v":2.2},{"y":41,"x0":388,"x1":401,"v":2.6},{"y":41,"x0":401,"x1":406,"v":2.2},{"y":41,"x0":406,"x1":420,"v":1.8},{"y":41,"x0":420,"x1":427,"v":1.4},{"y":41,"x0":427,"x1":430,"v":1},{"y":41,"x0":430,"x1":433,"v":0.6},{"y":41,"x0":433,"x1":440,"v":1},{"y":41,"x0":440,"x1":447,"v":1.4},{"y":41,"x0":447,"x1":449,"v":1.8},{"y":41,"x0":449,"x1":450,"v":2.2},{"y":41,"x0":450,"x1":451,"v":2.6},{"y":41,"x0":451,"x1":453,"v":3},{"y":41,"x0":453,"x1":461,"v":3.4},{"y":41,"x0":461,"x1":469,"v":4.2},{"y":41,"x0":469,"x1":507,"v":3.4},{"y":41,"x0":507,"x1":510,"v":3},{"y":41,"x0":510,"x1":514,"v":2.6},{"y":41,"x0":514,"x1":518,"v":2.2},{"y":41,"x0":518,"x1":528,"v":1.8},{"y":41,"x0":528,"x1":545,"v":1.4},{"y":41,"x0":545,"x1":563,"v":1},{"y":41,"x0":563,"x1":703,"v":0.6},{"y":41,"x0":703,"x1":719,"v":1},{"y":41,"x0":719,"x1":747,"v":0.6},
{"y":42,"x0":75,"x1":238,"v":0.2},{"y":42,"x0":238,"x1":296,"v":0.6},{"y":42,"x0":296,"x1":317,"v":1},{"y":42,"x0":317,"x1":345,"v":1.4},{"y":42,"x0":345,"x1":365,"v":1},{"y":42,"x0":365,"x1":383,"v":1.4},{"y":42,"x0":383,"x1":388,"v":1.8},{"y":42,"x0":388,"x1":397,"v":2.2},{"y":42,"x0":397,"x1":407,"v":1.8},{"y":42,"x0":407,"x1":409,"v":1.4},{"y":42,"x0":409,"x1":417,"v":1},{"y":42,"x0":417,"x1":449,"v":0.6},{"y":42,"x0":449,"x1":451,"v":1},{"y":42,"x0":451,"x1":453,"v":1.4},{"y":42,"x0":453,"x1":454,"v":1.8},{"y":42,"x0":454,"x1":456,"v":2.2},{"y":42,"x0":456,"x1":458,"v":2.6},{"y":42,"x0":458,"x1":460,"v":3},{"y":42,"x0":460,"x1":486,"v":3.4},{"y":42,"x0":486,"x1":487,"v":3},{"y":42,"x0":487,"x1":489,"v":2.6},{"y":42,"x0":489,"x1":490,"v":2.2},{"y":42,"x0":490,"x1":492,"v":1.8},{"y":42,"x0":492,"x1":494,"v":1.4},{"y":42,"x0":494,"x1":497,"v":1},{"y":42,"x0":497,"x1":568,"v":0.6},{"y":42,"x0":568,"x1":647,"v":0.2},{"y":42,"x0":647,"x1":709,"v":0.6},{"y":42,"x0":709,"x1":715,"v":1},{"y":42,"x0":715,"x1":744,"v":0.6},{"y":42,"x0":744,"x1":747,"v":1},
{"y":43,"x0":75,"x1":243,"v":0.2},{"y":43,"x0":243,"x1":293,"v":0.6},{"y":43,"x0":293,"x1":355,"v":1},{"y":43,"x0":355,"x1":361,"v":0.6},{"y":43,"x0":361,"x1":384,"v":1},{"y":43,"x0":384,"x1":399,"v":1.4},{"y":43,"x0":399,"x1":405,"v":1},{"y":43,"x0":405,"x1":429,"v":0.6},{"y":43,"x0":429,"x1":433,"v":0.2},{"y":43,"x0":433,"x1":458,"v":0.6},{"y":43,"x0":458,"x1":460,"v":1},{"y":43,"x0":460,"x1":461,"v":1.4},{"y":43,"x0":461,"x1":462,"v":1.8},{"y":43,"x0":462,"x1":463,"v":2.2},{"y":43,"x0":463,"x1":464,"v":2.6},{"y":43,"x0":464,"x1":466,"v":3},{"y":43,"x0":466,"x1":468,"v":3.4},{"y":43,"x0":468,"x1":470,"v":3},{"y":43,"x0":470,"x1":471,"v":2.6},{"y":43,"x0":471,"x1":472,"v":2.2},{"y":43,"x0":472,"x1":473,"v":1.8},{"y":43,"x0":473,"x1":475,"v":1.4},{"y":43,"x0":475,"x1":478,"v":1},{"y":43,"x0":478,"x1":574,"v":0.6},{"y":43,"x0":574,"x1":659,"v":0.2},{"y":43,"x0":659,"x1":747,"v":0.6},
{"y":44,"x0":75,"x1":96,"v":0.2},{"y":44,"x0":96,"x1":124,"v":0.6},{"y":44,"x0":124,"x1":245,"v":0.2},{"y":44,"x0":245,"x1":290,"v":0.6},{"y":44,"x0":290,"x1":328,"v":1},{"y":44,"x0":328,"x1":355,"v":0.6},{"y":44,"x0":355,"x1":363,"v":0.2},{"y":44,"x0":363,"x1":390,"v":0.6},{"y":44,"x0":390,"x1":394,"v":1},{"y":44,"x0":394,"x1":421,"v":0.6},{"y":44,"x0":421,"x1":458,"v":0.2},{"y":44,"x0":458,"x1":482,"v":0.6},{"y":44,"x0":482,"x1":508,"v":0.2},{"y":44,"x0":508,"x1":579,"v":0.6},{"y":44,"x0":579,"x1":670,"v":0.2},{"y":44,"x0":670,"x1":684,"v":0.6},{"y":44,"x0":684,"x1":733,"v":0.2},{"y":44,"x0":733,"x1":747,"v":0.6},
{"y":45,"x0":75,"x1":88,"v":0.2},{"y":45,"x0":88,"x1":124,"v":0.6},{"y":45,"x0":124,"x1":240,"v":0.2},{"y":45,"x0":240,"x1":389,"v":0.6},{"y":45,"x0":389,"x1":397,"v":1},{"y":45,"x0":397,"x1":424,"v":0.6},{"y":45,"x0":424,"x1":448,"v":0.2},{"y":45,"x0":448,"x1":584,"v":0.6},{"y":45,"x0":584,"x1":742,"v":0.2},{"y":45,"x0":742,"x1":747,"v":0.6},
{"y":46,"x0":75,"x1":80,"v":0.2},{"y":46,"x0":80,"x1":124,"v":0.6},{"y":46,"x0":124,"x1":234,"v":0.2},{"y":46,"x0":234,"x1":382,"v":0.6},{"y":46,"x0":382,"x1":403,"v":1},{"y":46,"x0":403,"x1":428,"v":0.6},{"y":46,"x0":428,"x1":435,"v":0.2},{"y":46,"x0":435,"x1":588,"v":0.6},{"y":46,"x0":588,"x1":747,"v":0.2},
{"y":47,"x0":75,"x1":124,"v":0.6},{"y":47,"x0":124,"x1":228,"v":0.2},{"y":47,"x0":228,"x1":316,"v":0.6},{"y":47,"x0":316,"x1":331,"v":0.2},{"y":47,"x0":331,"x1":375,"v":0.6},{"y":47,"x0":375,"x1":408,"v":1},{"y":47,"x0":408,"x1":588,"v":0.6},{"y":47,"x0":588,"x1":747,"v":0.2},
{"y":48,"x0":75,"x1":127,"v":0.6},{"y":48,"x0":127,"x1":226,"v":0.2},{"y":48,"x0":226,"x1":295,"v":0.6},{"y":48,"x0":295,"x1":334,"v":0.2},{"y":48,"x0":334,"x1":367,"v":0.6},{"y":48,"x0":367,"x1":409,"v":1},{"y":48,"x0":409,"x1":579,"v":0.6},{"y":48,"x0":579,"x1":747,"v":0.2},
{"y":49,"x0":75,"x1":130,"v":0.6},{"y":49,"x0":130,"x1":225,"v":0.2},{"y":49,"x0":225,"x1":276,"v":0.6},{"y":49,"x0":276,"x1":337,"v":0.2},{"y":49,"x0":337,"x1":360,"v":0.6},{"y":49,"x0":360,"x1":410,"v":1},{"y":49,"x0":410,"x1":570,"v":0.6},{"y":49,"x0":570,"x1":747,"v":0.2}
]},"mark":{"type":"rect","strokeWidth":1,"clip":true},"encoding":{"x":{"field":"x0","type":"quantitative","scale":{"domain":[75,747],"nice":false,"zero":false},"axis":{"title":"x","labels":false,"ticks":false,"domain":false,"grid":false,"titleFont":"Liberation Serif","titleFontStyle":"italic","titleFontWeight":"normal","titleFontSize":29,"titlePadding":6,"titleColor":"black"}},"x2":{"field":"x1"},"y":{"field":"y","type":"ordinal","scale":{"paddingInner":0,"paddingOuter":0},"axis":{"title":"y","labels":false,"ticks":false,"domain":false,"grid":false,"titleFont":"Liberation Serif","titleFontStyle":"italic","titleFontWeight":"normal","titleFontSize":29,"titlePadding":12,"titleColor":"black"}},"color":{"field":"v","type":"quantitative","legend":null,"scale":{"type":"quantize","domain":[0,8],"nice":false,"range":["#4257c9","#5572df","#6282ea","#7093f3","#82a6fb","#96b7ff","#aac7fd","#bad0f8","#cbd8ee","#d7dce3","#e2dad5","#ecd3c5","#f5c4ac","#f7b599","#f7a688","#f59273","#ed7c61","#e0654f","#cd423a","#bb1b2c"]}},"stroke":{"field":"v","type":"quantitative","legend":null,"scale":{"type":"quantize","domain":[0,8],"nice":false,"range":["#4257c9","#5572df","#6282ea","#7093f3","#82a6fb","#96b7ff","#aac7fd","#bad0f8","#cbd8ee","#d7dce3","#e2dad5","#ecd3c5","#f5c4ac","#f7b599","#f7a688","#f59273","#ed7c61","#e0654f","#cd423a","#bb1b2c"]}}}},{"data":{"values":[{"x0":75,"x1":747}]},"mark":{"type":"rect","fill":null,"stroke":"black","strokeWidth":1.5},"encoding":{"x":{"field":"x0","type":"quantitative"},"x2":{"field":"x1"}}}]},{"width":25,"height":497,"layer":[{"data":{"values":[{"lo":0,"hi":0.4,"v":0.2},{"lo":0.4,"hi":0.8,"v":0.6},{"lo":0.8,"hi":1.2,"v":1},{"lo":1.2,"hi":1.6,"v":1.4},{"lo":1.6,"hi":2,"v":1.8},{"lo":2,"hi":2.4,"v":2.2},{"lo":2.4,"hi":2.8,"v":2.6},{"lo":2.8,"hi":3.2,"v":3},{"lo":3.2,"hi":3.6,"v":3.4},{"lo":3.6,"hi":4,"v":3.8},{"lo":4,"hi":4.4,"v":4.2},{"lo":4.4,"hi":4.8,"v":4.6},{"lo":4.8,"hi":5.2,"v":5},{"lo":5.2,"hi":5.6,"v":5.4},{"lo":5.6,"hi":6,"v":5.8},{"lo":6,"hi":6.4,"v":6.2},{"lo":6.4,"hi":6.8,"v":6.6},{"lo":6.8,"hi":7.2,"v":7},{"lo":7.2,"hi":7.6,"v":7.4},{"lo":7.6,"hi":8,"v":7.8}]},"mark":{"type":"rect"},"encoding":{"y":{"field":"lo","type":"quantitative","scale":{"domain":[0,8],"nice":false},"axis":{"orient":"right","title":null,"values":[0,2,4,6,8],"labelExpr":"{'0':'0e+00','2':'2e-03','4':'4e-03','6':'6e-03','8':'8e-03'}[datum.value]","labelFont":"DejaVu Serif","labelFontSize":31,"labelColor":"black","labelPadding":9,"labelLimit":200,"tickColor":"black","tickSize":8,"tickWidth":1.3,"domain":false,"grid":false}},"y2":{"field":"hi"},"color":{"field":"v","type":"quantitative","legend":null,"scale":{"type":"quantize","domain":[0,8],"nice":false,"range":["#4257c9","#5572df","#6282ea","#7093f3","#82a6fb","#96b7ff","#aac7fd","#bad0f8","#cbd8ee","#d7dce3","#e2dad5","#ecd3c5","#f5c4ac","#f7b599","#f7a688","#f59273","#ed7c61","#e0654f","#cd423a","#bb1b2c"]}}}},{"data":{"values":[{"lo":0,"hi":8}]},"mark":{"type":"rect","fill":null,"stroke":"black","strokeWidth":1.3},"encoding":{"y":{"field":"lo","type":"quantitative"},"y2":{"field":"hi"}}}]}]}
